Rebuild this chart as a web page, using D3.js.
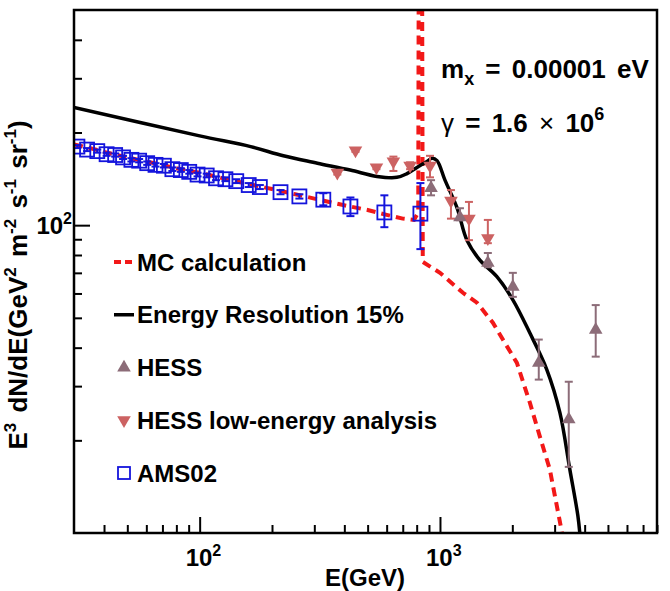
<!DOCTYPE html>
<html>
<head>
<meta charset="utf-8">
<script src="https://cdn.jsdelivr.net/npm/d3@7"></script>
<style>
body { margin: 0; background: #fff; }
text { font-family: "Liberation Sans", Arial, Helvetica, sans-serif; font-weight: bold; fill: #000; }
</style>
</head>
<body>
<svg id="chart" width="670" height="591"></svg>
<script>
// AMS02 (e+ + e-) points
const amsE = [31, 34, 37.5, 41, 44.5, 48, 52, 56, 60.5, 65.5, 71, 77, 83.5, 90.5, 98, 107, 117, 128, 142, 160, 178, 217, 260, 327, 424, 587, 829];
const amsV = [180, 176, 174, 170, 169, 166, 163, 162, 159, 157, 156, 152, 151, 149, 146, 145, 142, 141, 139, 135, 133, 128, 124, 121, 115, 110, 109];
const amsHi = [182, 178, 176, 172, 171, 168, 165, 164, 161, 159, 158, 154, 153, 151, 148, 147, 144, 143, 141, 137, 135, 130, 126, 127, 123, 125, 137];
const amsLo = [178, 174, 172, 168, 167, 164, 161, 160, 157, 155, 154, 150, 149, 147, 144, 143, 140, 139, 137, 133, 131, 126, 122, 116, 107, 98.5, 83.6];

// HESS
const hessE = [918, 1211, 1582, 2010, 2577, 3435, 4447];
const hessV = [132, 106, 75.4, 63, 35.7, 23.4, 45.7];
const hessHi = [140, 113.5, 81.2, 70, 42.5, 31, 55];
const hessLo = [125, 103.8, 73, 58.5, 31.5, 16.4, 37.4];

// HESS low-energy analysis
const lowE = [374, 445, 544, 640, 751, 909, 1111, 1320, 1582];
const lowV = [148, 175, 154, 161, 156, 156, 120, 105, 90.8];
const lowHi = [150, 177, 156, 167, 160, 168, 130, 119, 104];
const lowLo = [146, 173, 152, 150, 152, 143, 105, 89.4, 87.4];

// MC calculation (spike runs off the top of the frame)
const mcE = [30, 35, 40, 50, 60, 70, 80, 100, 130, 160, 200, 250, 300, 400, 500, 600, 700, 780, 812, 818, 840, 848, 1000, 1246, 1425, 1660, 1827, 2090, 2366, 2603, 2864, 3153, 3300];
const mcV = [183, 178, 173, 166, 161, 157, 153, 148, 141, 136, 131, 126, 122, 116, 112, 108, 105, 104, 110, 2000, 2000, 76, 70, 60.3, 56, 48.2, 42.5, 35.7, 26.5, 20.6, 16.1, 10.9, 9];

// Energy resolution 15%
const resE = [30, 100, 163, 223, 309, 423, 547, 662, 729, 802, 883, 926, 972, 1049, 1177, 1295, 1466, 1725, 2010, 2364, 2785, 3155, 3470, 3747, 3818, 3900];
const resV = [241, 195, 180, 168, 159, 151, 144, 143, 147, 154, 161, 165, 162, 140, 114, 89.3, 77, 68, 57.2, 44.7, 33.9, 24.6, 16.1, 11.4, 10, 8];

const xMinor = [40, 50, 60, 70, 80, 90, 200, 300, 400, 500, 600, 700, 800, 900, 2000, 3000, 4000, 5000, 6000, 7000, 8000];
const xMajor = [100, 1000];
const yMinor = [20, 30, 40, 50, 60, 70, 80, 90, 200, 300, 400];
const yMajor = [100];

const legendLabels = ["MC calculation", "Energy Resolution 15%", "HESS", "HESS low-energy analysis", "AMS02"];

const RED = "#f21818", BLUE = "#1414dc", HESS_C = "#8c6c78", LOW_C = "#cc6262";

const svg = d3.select("#chart");
const pL = 74, pR = 657, pT = 10, pB = 533;

const x = d3.scaleLog().domain([30, 8000]).range([pL, pR]);
const y = d3.scaleLog().domain([10, 500]).range([pB, pT]);

svg.append("defs").append("clipPath").attr("id", "plotclip")
    .append("rect").attr("x", pL).attr("y", pT)
    .attr("width", pR - pL).attr("height", pB - pT);

// ticks pointing inwards
function tickAxis(axis, vals, len, transform) {
    const g = svg.append("g").attr("transform", transform)
        .call(axis.tickValues(vals).tickSize(-len).tickFormat(""));
    g.select(".domain").remove();
    g.selectAll(".tick line").attr("stroke", "#000").attr("stroke-width", 2);
}
tickAxis(d3.axisBottom(x), xMinor, 8, `translate(0,${pB})`);
tickAxis(d3.axisBottom(x), xMajor, 16, `translate(0,${pB})`);
tickAxis(d3.axisLeft(y), yMinor, 8, `translate(${pL},0)`);
tickAxis(d3.axisLeft(y), yMajor, 16, `translate(${pL},0)`);

function powLabel(px, py, exp, anchor) {
    const t = svg.append("text").attr("x", px).attr("y", py)
        .attr("text-anchor", anchor).style("font-size", "24px");
    t.append("tspan").text("10");
    t.append("tspan").attr("dy", -10).style("font-size", "16px").text(exp);
    return t;
}
xMajor.forEach(v => powLabel(x(v) - 14, 566, Math.log10(v), "start"));
yMajor.forEach(v => powLabel(pL - 2, y(v) + 9, Math.log10(v), "end"));

svg.append("text").attr("x", 405).attr("y", 586).attr("text-anchor", "end")
    .style("font-size", "24px").text("E(GeV)");

// y title
const yt = svg.append("text")
    .attr("transform", "translate(27,285) rotate(-90)")
    .attr("text-anchor", "middle").style("font-size", "26px")
    .attr("word-spacing", "3px");
[["E", 0], ["3", 1], [" dN/dE(GeV", 0], ["2", 1], [" m", 0], ["-2", 1], [" s", 0], ["-1", 1], [" sr", 0], ["-1", 1], [")", 0]]
    .forEach(([s, sup], i, arr) => {
        const prevSup = i > 0 && arr[i - 1][1];
        const ts = yt.append("tspan").text(s);
        if (sup) ts.attr("dy", -11).style("font-size", "17px");
        else if (prevSup) ts.attr("dy", 11);
    });

const plot = svg.append("g").attr("clip-path", "url(#plotclip)");

// MC dashed
plot.append("path")
    .attr("d", d3.line().x((d, i) => x(mcE[i])).y(d => y(d))(mcV))
    .attr("fill", "none").attr("stroke", RED).attr("stroke-width", 4)
    .attr("stroke-dasharray", "9,6");

// energy resolution line
plot.append("path")
    .attr("d", d3.line().x((d, i) => x(resE[i])).y(d => y(d)).curve(d3.curveCatmullRom)(resV))
    .attr("fill", "none").attr("stroke", "#000").attr("stroke-width", 3.5);

function errorBars(E, lo, hi, color, cap) {
    const g = plot.append("g").attr("stroke", color).attr("stroke-width", 2);
    E.forEach((e, i) => {
        g.append("line").attr("x1", x(e)).attr("x2", x(e)).attr("y1", y(lo[i])).attr("y2", y(hi[i]));
        [lo[i], hi[i]].forEach(v => g.append("line")
            .attr("x1", x(e) - cap).attr("x2", x(e) + cap).attr("y1", y(v)).attr("y2", y(v)));
    });
}

errorBars(amsE, amsLo, amsHi, BLUE, 4);
plot.append("g").selectAll("rect").data(amsV).join("rect")
    .attr("x", (d, i) => x(amsE[i]) - 7).attr("y", d => y(d) - 7)
    .attr("width", 14).attr("height", 14)
    .attr("fill", "none").attr("stroke", BLUE).attr("stroke-width", 1.8);

errorBars(lowE, lowLo, lowHi, LOW_C, 4);
plot.append("g").selectAll("path").data(lowV).join("path")
    .attr("d", d3.symbol(d3.symbolTriangle, 80))
    .attr("transform", (d, i) => `translate(${x(lowE[i])},${y(d)}) rotate(180)`)
    .attr("fill", LOW_C);

errorBars(hessE, hessLo, hessHi, HESS_C, 4);
plot.append("g").selectAll("path").data(hessV).join("path")
    .attr("d", d3.symbol(d3.symbolTriangle, 80))
    .attr("transform", (d, i) => `translate(${x(hessE[i])},${y(d)})`)
    .attr("fill", HESS_C);

// frame
svg.append("rect").attr("x", pL).attr("y", pT)
    .attr("width", pR - pL).attr("height", pB - pT)
    .attr("fill", "none").attr("stroke", "#000").attr("stroke-width", 2.5);

// legend
const lg = svg.append("g");
legendLabels.forEach((lab, i) => {
    const cy = 262 + i * 52.75;
    lg.append("text").attr("x", 137).attr("y", cy + 8.5).style("font-size", "24px").text(lab);
    if (i === 0) {
        lg.append("line").attr("x1", 114).attr("x2", 134).attr("y1", cy).attr("y2", cy)
            .attr("stroke", RED).attr("stroke-width", 4).attr("stroke-dasharray", "7,4");
    } else if (i === 1) {
        lg.append("line").attr("x1", 114).attr("x2", 134).attr("y1", cy).attr("y2", cy)
            .attr("stroke", "#000").attr("stroke-width", 3.5);
    } else if (i === 2) {
        lg.append("path").attr("d", d3.symbol(d3.symbolTriangle, 80))
            .attr("transform", `translate(124,${cy})`).attr("fill", HESS_C);
    } else if (i === 3) {
        lg.append("path").attr("d", d3.symbol(d3.symbolTriangle, 80))
            .attr("transform", `translate(124,${cy}) rotate(180)`).attr("fill", LOW_C);
    } else {
        lg.append("rect").attr("x", 118).attr("y", cy - 6).attr("width", 12).attr("height", 12)
            .attr("fill", "none").attr("stroke", BLUE).attr("stroke-width", 1.8);
    }
});

// parameter annotations
const m = svg.append("text").attr("x", 441).attr("y", 78).style("font-size", "26px")
    .attr("word-spacing", "4px");
m.append("tspan").text("m");
m.append("tspan").attr("dy", 7).style("font-size", "18px").text("x");
m.append("tspan").attr("dy", -7).text(" = 0.00001 eV");

const g2 = svg.append("text").attr("x", 441).attr("y", 132).style("font-size", "26px")
    .attr("word-spacing", "4px");
g2.append("tspan").style("font-weight", "normal").text("γ");
g2.append("tspan").text(" = 1.6 ");
g2.append("tspan").style("font-weight", "normal").text("×");
g2.append("tspan").text(" 10");
g2.append("tspan").attr("dy", -12).style("font-size", "18px").text("6");
</script>
</body>
</html>
